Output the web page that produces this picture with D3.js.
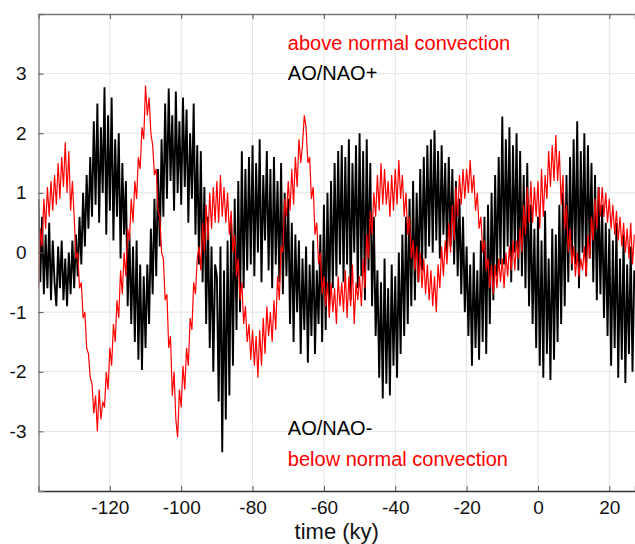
<!DOCTYPE html>
<html>
<head>
<meta charset="utf-8">
<script src="https://cdn.jsdelivr.net/npm/d3@7"></script>
<style>
  body { margin: 0; background: #fff; }
  svg text { font-family: "Liberation Sans", Arial, Helvetica, sans-serif; }
</style>
</head>
<body>
<div id="chart"></div>
<script>
// time axis: first sample and spacing (ky)
const tStart = -140;
const tStep = 0.5;

// AO/NAO index (black), one value every 0.5 ky from -140
const aoNao = [
  0.9, -0.5, 0.6, -0.7, 0.3, -0.6, 0.5, -0.8, 0.2, -0.5,
  -0.9, 0.1, -0.6, 0.2, -0.8, -0.1, -0.9, 0.0, -0.7, 0.2,
  -0.6, 0.3, -0.4, 0.6, -0.2, 1.0, 0.1, 1.3, 0.4, 1.6,
  0.6, 2.2, 0.8, 2.5, 0.5, 2.1, 1.0, 2.77, 0.3, 2.3,
  0.7, 2.6, 0.2, 1.9, 0.6, 2.0, -0.1, 1.5, 0.3, 1.2,
  -0.9, 0.3, -1.2, 0.1, -1.5, 0.2, -1.8, -0.2, -1.97, -0.4,
  -1.6, -0.2, -1.2, 0.4, -0.7, 0.9, -0.4, 1.4, 0.1, 1.9,
  0.6, 2.5, 0.9, 2.75, 1.2, 2.3, 0.7, 2.7, 1.0, 2.2,
  0.8, 2.6, 1.1, 2.4, 0.5, 2.0, 0.9, 2.5, 0.3, 1.8,
  -0.2, 1.7, -0.5, 1.1, -1.2, 0.6, -1.6, 0.1, -2.0, -0.2,
  -0.4, -2.5, 0.1, -3.35, -0.3, -2.8, 0.2, -2.4, 0.5, -1.9,
  0.9, -1.3, 1.2, -1.0, 1.7, -0.6, 1.4, -0.3, 1.6, -0.2,
  1.8, -0.4, 1.5, 0.0, 1.9, -0.5, 1.3, 0.2, 1.7, -0.3,
  1.4, -0.6, 1.6, -0.2, 1.2, -0.5, 1.5, -0.7, 1.0, -0.4,
  0.9, -1.2, 0.5, -1.5, 0.3, -1.0, 0.2, -1.7, -0.1, -1.3,
  0.1, -1.85, -0.2, -1.4, 0.2, -1.7, -0.3, -1.2, 0.3, -1.5,
  0.8, -1.3, 1.0, -0.9, 1.2, -0.6, 1.5, -0.4, 1.7, -0.2,
  1.8, -0.5, 1.6, -0.2, 1.9, -0.8, 1.5, 0.0, 1.8, -0.6,
  2.0, -0.4, 1.7, -0.8, 1.9, -0.3, 1.5, -0.9, 0.6, -1.4,
  -0.3, -2.1, -0.5, -2.45, -0.1, -2.2, -0.6, -2.4, -0.2, -1.9,
  -0.4, -2.1, 0.0, -1.7, 0.3, -1.4, 0.6, -1.2, 0.9, -0.9,
  1.2, -0.8, 1.0, -0.5, 1.4, -0.3, 1.6, -0.1, 1.8, 0.1,
  1.9, 0.0, 2.05, 0.2, 1.7, -0.1, 1.8, 0.3, 1.5, 0.0,
  1.6, 0.1, 1.4, -0.2, 1.2, -0.4, 0.9, -0.7, 0.6, -1.0,
  0.1, -1.4, -0.2, -1.9, 0.0, -1.6, -0.3, -1.8, 0.2, -1.5,
  0.6, -1.7, 0.8, -1.2, 1.0, -0.8, 1.3, -0.4, 1.6, -0.2,
  2.28, -0.2, 1.9, 0.1, 2.1, -0.5, 1.8, 0.0, 2.0, -0.3,
  1.7, -0.4, 1.3, -0.6, 1.5, -0.9, 0.8, -1.2, 0.4, -1.6,
  0.6, -1.9, 0.2, -2.1, 0.7, -1.7, -0.1, -2.14, 0.4, -1.8,
  0.3, -1.5, 0.8, -1.2, 1.0, -0.9, 1.3, -0.5, 1.6, -0.3,
  1.9, -0.2, 2.2, -0.6, 1.7, 0.0, 2.0, -0.4, 1.8, -0.1,
  1.5, -0.5, 1.3, -0.8, 1.1, -0.7, 0.8, -1.1, 0.5, -1.4,
  0.4, -1.9, 0.2, -1.6, 0.5, -2.1, -0.1, -1.8, 0.3, -2.19,
  -0.2, -1.7, 0.1, -2.0, -0.3
];

// convection index (red), same sampling
const convection = [
  -0.6, 0.4, 0.1, 0.9, 0.4, 1.1, 0.6, 1.2, 0.7, 1.3,
  0.8, 1.5, 0.9, 1.6, 1.1, 1.85, 1.0, 1.7, 0.7, 1.2,
  0.6, -0.1, 0.0, -0.6, -0.5, -1.1, -1.0, -1.6, -1.7, -2.1,
  -2.2, -2.7, -2.4, -3.0, -2.3, -2.8, -2.5, -2.6, -2.0, -2.3,
  -1.6, -1.9, -1.2, -1.5, -0.8, -1.1, -0.3, -0.7, 0.0, -0.4,
  0.4, 0.2, 0.9, 0.5, 1.2, 0.9, 1.6, 1.4, 2.1, 1.9,
  2.8, 2.3, 2.6, 2.0, 1.8, 1.3, 1.4, 0.7, 0.6, 0.0,
  -0.1, -0.8, -0.7, -1.6, -1.4, -2.4, -2.0, -2.8, -3.1, -2.3,
  -2.6, -1.9, -2.3, -1.6, -1.9, -1.1, -1.3, -0.5, -0.7, -0.1,
  0.1, -0.3, 0.5, 0.0, 0.8, 0.2, 1.0, 0.4, 1.1, 0.5,
  1.2, 0.5, 1.3, 0.6, 1.1, 0.5, 1.0, 0.3, 0.7, 0.0,
  0.3, -0.4, -0.1, -0.8, -0.5, -1.2, -0.9, -1.5, -1.2, -1.8,
  -1.3, -1.9, -1.4, -2.1, -1.3, -1.9, -1.1, -1.7, -0.9, -1.4,
  -1.0, -1.5, -0.8, -1.3, -0.4, -0.8, 0.1, 0.0, 0.9, 0.6,
  1.2, 0.7, 1.4, 0.8, 1.6, 1.1, 1.9, 1.5, 1.8, 2.3,
  2.1, 1.5, 1.6, 0.9, 1.1, 0.3, 0.5, -0.2, 0.0, -0.7,
  -0.4, -0.9, -0.5, -1.1, -0.5, -1.0, -0.6, -1.2, -0.4, -0.9,
  -0.5, -1.0, -0.3, -1.1, -0.4, -0.9, -0.2, -1.2, -0.5, -0.8,
  -0.4, -0.9, -0.1, -0.6, 0.3, -0.1, 0.7, 0.3, 1.0, 0.6,
  1.3, 0.7, 1.5, 0.8, 1.4, 0.8, 1.2, 0.6, 1.3, 0.7,
  1.4, 0.8, 1.55, 0.9, 1.3, 0.6, 1.0, 0.3, 0.6, -0.1,
  0.2, -0.3, 0.1, -0.5, 0.0, -0.6, -0.1, -0.7, -0.2, -0.8,
  -0.3, -0.9, -0.4, -1.0, -0.2, -0.6, 0.1, -0.4, 0.2, -0.2,
  0.5, 0.0, 0.8, 0.2, 1.1, 0.6, 1.3, 0.8, 1.4, 0.9,
  1.4, 1.0, 1.55, 1.0, 1.3, 0.7, 1.0, 0.4, 0.6, 0.0,
  0.2, -0.3, -0.1, -0.6, -0.2, -0.7, -0.2, -0.6, -0.1, -0.5,
  -0.1, -0.6, 0.0, -0.4, 0.1, -0.3, 0.2, -0.3, 0.2, -0.1,
  0.4, 0.0, 0.8, 0.3, 1.1, 0.5, 1.2, 0.5, 1.1, 0.6,
  1.2, 0.4, 1.4, 0.6, 1.3, 0.9, 1.7, 1.1, 1.8, 1.2,
  1.97, 1.2, 1.7, 0.8, 1.3, 0.4, 0.8, 0.0, 0.4, -0.2,
  0.1, -0.4, 0.0, -0.4, -0.1, -0.3, 0.1, -0.4, 0.3, -0.1,
  0.6, 0.2, 0.9, 0.4, 1.1, 0.6, 1.1, 0.6, 1.0, 0.5,
  0.9, 0.4, 0.8, 0.3, 0.7, 0.2, 0.6, 0.1, 0.5, 0.0,
  0.4, -0.1, 0.5, -0.2, 0.3
];

const xTicks = [-120, -100, -80, -60, -40, -20, 0, 20];
const yTicks = [-3, -2, -1, 0, 1, 2, 3];

const labelsTop = [
  { text: "above normal convection", color: "red", y: 3.39 },
  { text: "AO/NAO+", color: "black", y: 2.9 }
];
const labelsBottom = [
  { text: "AO/NAO-", color: "black", y: -3.06 },
  { text: "below normal convection", color: "red", y: -3.58 }
];

const width = 635, height = 544;
const margin = { top: 14, right: 0, bottom: 53, left: 38.5 };

const svg = d3.select("#chart").append("svg")
  .attr("width", width)
  .attr("height", height);

const x = d3.scaleLinear()
  .domain([-140, 27.2])
  .range([margin.left, width - margin.right]);

const y = d3.scaleLinear()
  .domain([-4, 4])
  .range([height - margin.bottom, margin.top]);

// plain hyphen for negative tick labels, as in the original
const fmt = d => String(d);

// grid
svg.append("g")
  .selectAll("line")
  .data(xTicks)
  .join("line")
  .attr("x1", d => x(d)).attr("x2", d => x(d))
  .attr("y1", y(-4)).attr("y2", y(4))
  .attr("stroke", "#e3e3e3").attr("stroke-width", 1);

svg.append("g")
  .selectAll("line")
  .data(yTicks)
  .join("line")
  .attr("x1", x(-140)).attr("x2", width)
  .attr("y1", d => y(d)).attr("y2", d => y(d))
  .attr("stroke", "#e3e3e3").attr("stroke-width", 1);

// series
const line = d3.line()
  .x((d, i) => x(tStart + i * tStep))
  .y(d => y(d));

svg.append("clipPath").attr("id", "plot")
  .append("rect")
  .attr("x", margin.left).attr("y", margin.top)
  .attr("width", width - margin.left).attr("height", y(-4) - margin.top);

svg.append("path")
  .datum(aoNao)
  .attr("clip-path", "url(#plot)")
  .attr("d", line)
  .attr("fill", "none")
  .attr("stroke", "black")
  .attr("stroke-width", 1.9);

svg.append("path")
  .datum(convection)
  .attr("clip-path", "url(#plot)")
  .attr("d", line)
  .attr("fill", "none")
  .attr("stroke", "red")
  .attr("stroke-width", 1.2);

// axes
const xAxis = svg.append("g")
  .attr("transform", `translate(0,${y(-4)})`)
  .call(d3.axisBottom(x).tickValues(xTicks).tickSize(-5).tickPadding(10).tickFormat(fmt));
xAxis.select(".domain").attr("stroke", "#333").attr("stroke-width", 1.3);
xAxis.selectAll(".tick line").attr("stroke", "#555");
xAxis.selectAll("text").attr("font-size", 19).attr("fill", "#111");

const yAxis = svg.append("g")
  .attr("transform", `translate(${margin.left},0)`)
  .call(d3.axisLeft(y).tickValues(yTicks).tickSize(-5).tickPadding(12).tickFormat(fmt));
yAxis.select(".domain").attr("stroke", "#888").attr("stroke-width", 1.5);
yAxis.selectAll(".tick line").attr("stroke", "#555");
yAxis.selectAll("text").attr("font-size", 19).attr("fill", "#111");

// top frame with inward ticks
const topAxis = svg.append("g")
  .attr("transform", `translate(0,${y(4)})`)
  .call(d3.axisTop(x).tickValues(xTicks).tickSize(-5).tickFormat(""));
topAxis.select(".domain").attr("stroke", "#777").attr("stroke-width", 1.5);
topAxis.selectAll(".tick line").attr("stroke", "#555");

// annotation labels
svg.selectAll("text.note")
  .data(labelsTop.concat(labelsBottom))
  .join("text")
  .attr("class", "note")
  .attr("x", x(-70.1))
  .attr("y", d => y(d.y))
  .attr("font-size", 20)
  .attr("fill", d => d.color)
  .text(d => d.text);

svg.append("text")
  .attr("x", (margin.left + width) / 2)
  .attr("y", 539)
  .attr("text-anchor", "middle")
  .attr("font-size", 22)
  .attr("fill", "#111")
  .text("time (ky)");
</script>
</body>
</html>
